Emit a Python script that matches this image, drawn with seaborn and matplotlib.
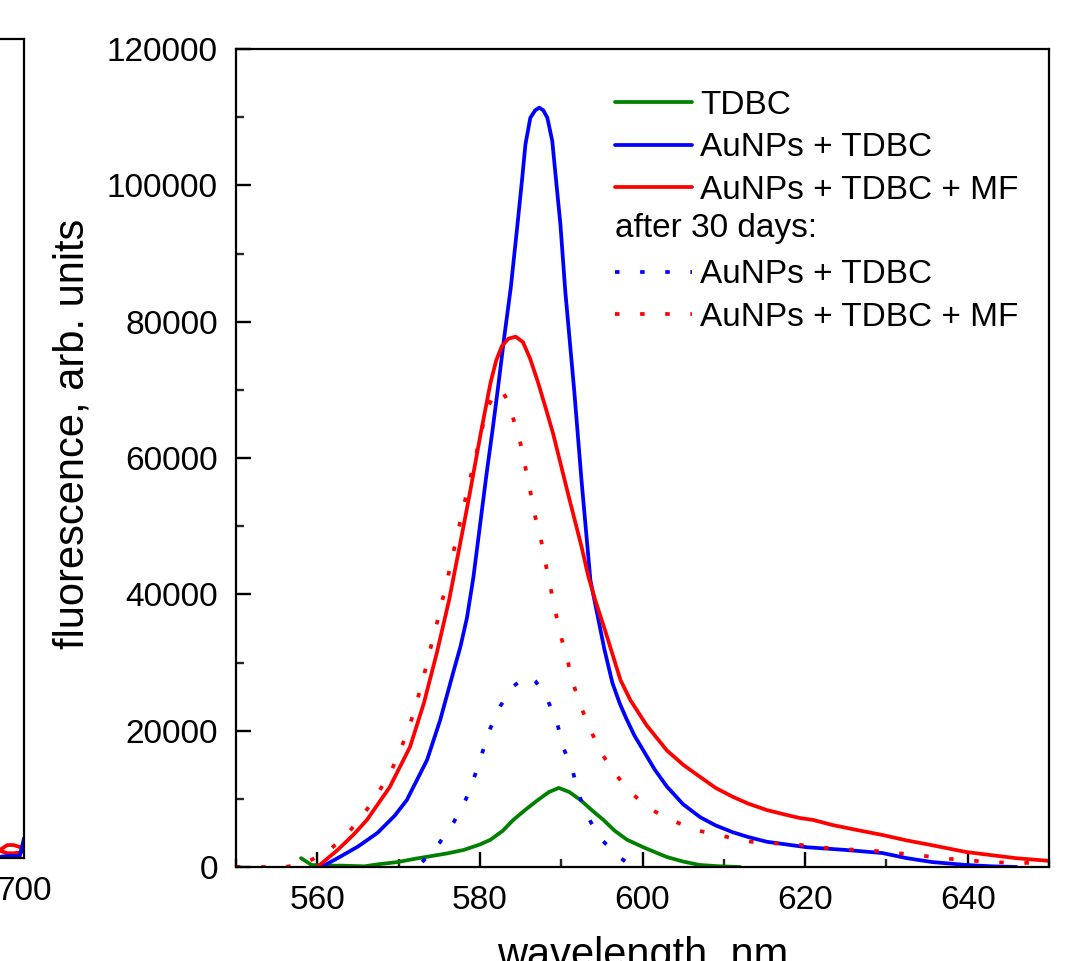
import matplotlib
matplotlib.use("Agg")
import matplotlib.pyplot as plt
from matplotlib.lines import Line2D
from matplotlib.ticker import MultipleLocator
import seaborn as sns

# TDBC (green)
tdbc_wl = [558.0, 559.3, 561.0, 563.0, 565.8, 567.5, 569.9, 572.0, 574.0, 576.0, 578.0, 580.0,
           581.3, 582.8, 584.1, 585.6, 587.1, 588.5, 589.7, 591.0, 592.4, 593.8, 595.2, 596.6,
           598.1, 600.1, 601.5, 603.0, 605.0, 607.0, 609.5, 612.0]
tdbc_val = [1300, 300, 200, 200, 100, 400, 730, 1200, 1600, 2000, 2500, 3300,
            4000, 5300, 6900, 8400, 9800, 11000, 11600, 11000, 9800, 8300, 6900, 5300,
            4000, 2900, 2200, 1460, 800, 300, 100, 0]

# AuNPs + TDBC (blue solid)
au_wl = [560.5, 562.5, 565.0, 567.4, 569.5, 571.0, 573.5, 575.1, 576.8, 577.6, 578.4, 579.2,
         580.0, 580.8, 581.6, 582.3, 583.0, 583.8, 584.6, 585.2, 585.6, 586.2, 586.8, 587.3,
         587.8, 588.3, 588.9, 589.3, 589.9, 590.5, 591.6, 592.5, 593.6, 594.2, 595.3, 596.3,
         597.2, 598.0, 599.0, 600.1, 601.5, 603.0, 605.0, 607.1, 609.0, 611.1, 613.0, 615.3,
         620.2, 625.0, 629.5, 632.5, 635.6, 639.8, 643.0, 646.0]
au_val = [0, 1300, 3000, 5000, 7500, 9800, 15700, 21500, 28900, 32300, 36500, 42500,
          50000, 57500, 64500, 71000, 77800, 85000, 94000, 101000, 106000, 109900, 111000, 111400,
          111000, 109900, 106500, 101600, 94300, 84500, 69900, 56700, 42000, 38500, 32000, 27000,
          24000, 21800, 19300, 17100, 14300, 11800, 9200, 7300, 6100, 5100, 4400, 3700,
          2900, 2500, 2050, 1300, 730, 300, 100, 0]

# AuNPs + TDBC + MF (red solid)
mf_wl = [560.0, 562.5, 564.5, 566.1, 568.9, 571.4, 573.1, 574.7, 576.2, 577.5, 578.6, 580.1,
         581.3, 582.0, 582.7, 583.5, 584.4, 585.3, 586.2, 587.2, 588.1, 589.0, 591.0, 592.5,
         593.3, 594.2, 595.4, 597.3, 598.5, 600.5, 603.0, 605.0, 607.1, 609.0, 611.1, 613.0,
         615.3, 617.5, 619.3, 621.0, 623.4, 626.5, 629.5, 632.5, 635.6, 639.8, 642.5, 645.9,
         650.0]
mf_val = [0, 2500, 4800, 6900, 11700, 17600, 24000, 31400, 39100, 47000, 53800, 63600,
          71000, 74300, 76400, 77500, 77800, 77000, 74500, 70900, 67300, 63600, 54000, 47000,
          42800, 39100, 34700, 27400, 24500, 20800, 17100, 15000, 13200, 11600, 10300, 9300,
          8350, 7700, 7200, 6900, 6150, 5400, 4700, 3900, 3200, 2200, 1800, 1300,
          900]

# after 30 days: AuNPs + TDBC (blue dotted)
au30_wl = [572.9, 575.0, 576.8, 578.3, 579.4, 580.3, 581.3, 582.4, 584.0, 585.3, 586.2, 586.8,
           587.6, 588.4, 589.5, 590.3, 591.4, 592.1, 593.3, 594.8, 597.0, 598.0]
au30_val = [730, 3500, 6600, 10000, 13500, 16800, 20400, 23400, 26400, 27600, 27900, 27300,
            26000, 24300, 21100, 17400, 14200, 10800, 7300, 4200, 1600, 700]

# after 30 days: AuNPs + TDBC + MF (red dotted)
mf30_wl = [550.0, 553.0, 556.0, 557.5, 559.0, 560.5, 561.7, 563.8, 565.8, 567.5, 569.1, 570.3,
           571.4, 572.3, 573.1, 573.8, 574.6, 576.0, 577.3, 578.5, 579.4, 580.1, 580.8, 581.8,
           582.6, 583.4, 584.1, 585.0, 585.6, 586.2, 586.8, 587.5, 588.1, 588.7, 589.3, 590.0,
           590.8, 591.5, 592.5, 593.6, 594.9, 596.5, 598.4, 600.8, 603.5, 606.6, 609.4, 612.5,
           615.4, 618.5, 621.5, 624.6, 627.6, 630.6, 633.6, 636.7, 639.8, 642.8, 645.7, 648.5]
mf30_val = [0, 0, 0, 300, 880, 1800, 2700, 5000, 7900, 10900, 14100, 17400,
            20900, 24500, 28000, 31500, 35200, 42200, 49200, 55500, 59900, 63400, 67000, 69500,
            70000, 68500, 65800, 62100, 58600, 55100, 51400, 48100, 44400, 40900, 37400, 33700,
            30200, 26800, 23300, 20100, 16800, 13900, 11100, 8600, 6900, 5400, 4700, 3800,
            3500, 3400, 2900, 2600, 2500, 2100, 1800, 1300, 1000, 730, 600, 600]

# cropped neighbouring panel on the left (only its right end is visible)
left_wl = [689, 692, 695, 698, 700]
left_red_top = [1300, 1900, 1900, 1600, 1000]
left_red_bot = [1000, 700, 700, 800, 1000]
left_blue = [200, 300, 300, 300, 2900]

labels = ["TDBC", "AuNPs + TDBC", "AuNPs + TDBC + MF", "after 30 days:",
          "AuNPs + TDBC", "AuNPs + TDBC + MF"]

sns.set_style("white")
plt.rcParams["font.family"] = ["Liberation Sans", "DejaVu Sans"]
plt.rcParams["text.color"] = "black"
plt.rcParams["axes.labelcolor"] = "black"

W, H = 1067, 961
fig = plt.figure(figsize=(W / 100, H / 100), dpi=100)
ax = fig.add_axes([236 / W, 1 - 867 / H, (1049 - 236) / W, (867 - 49) / H])
ax0 = fig.add_axes([-600 / W, 1 - 858 / H, 624 / W, (858 - 39) / H])

dot = (0, (1.2, 5.5))
lw = 2.7

sns.lineplot(x=tdbc_wl, y=tdbc_val, ax=ax, color="#008000", linewidth=lw)
sns.lineplot(x=au_wl, y=au_val, ax=ax, color="#0000ff", linewidth=lw)
sns.lineplot(x=mf_wl, y=mf_val, ax=ax, color="#ff0000", linewidth=lw)
sns.lineplot(x=au30_wl, y=au30_val, ax=ax, color="#0000ff", linewidth=lw, linestyle=dot)
sns.lineplot(x=mf30_wl, y=mf30_val, ax=ax, color="#ff0000", linewidth=lw, linestyle=dot)

ax.set_xlim(550, 650)
ax.set_ylim(0, 120000)
ax.xaxis.set_major_locator(MultipleLocator(20))
ax.xaxis.set_minor_locator(MultipleLocator(10))
ax.yaxis.set_major_locator(MultipleLocator(20000))
ax.yaxis.set_minor_locator(MultipleLocator(10000))
ax.ticklabel_format(axis="y", style="plain", useOffset=False)

ax.tick_params(which="major", direction="in", length=11, width=1.7, labelsize=24,
               pad=13, colors="black", bottom=True, left=True, top=False, right=False)
ax.tick_params(which="minor", direction="in", length=5.5, width=1.7,
               bottom=True, left=True, top=False, right=False)
for s in ax.spines.values():
    s.set_color("black")
    s.set_linewidth(1.6)

ax.set_xlabel("wavelength, nm", fontsize=30, labelpad=14)
ax.set_ylabel("fluorescence, arb. units", fontsize=30)
ax.yaxis.set_label_coords(-0.176, 0.53)

lines = ax.get_lines()
handles = [lines[0], lines[1], lines[2], Line2D([], [], alpha=0), lines[3], lines[4]]
leg = ax.legend(handles, labels, loc="upper left", bbox_to_anchor=(0.466, 0.95),
                frameon=False, fontsize=24, handlelength=2.3, handletextpad=0.25,
                labelspacing=0.34, borderpad=0, borderaxespad=0)
leg.get_texts()[3].set_alpha(0)
ax.text(0.466, (867 - 229) / 818, labels[3], transform=ax.transAxes,
        fontsize=24, va="center", ha="left")

# left panel
sns.lineplot(x=left_wl, y=left_red_top, ax=ax0, color="#ff0000", linewidth=lw)
sns.lineplot(x=left_wl, y=left_red_bot, ax=ax0, color="#ff0000", linewidth=lw)
sns.lineplot(x=left_wl, y=left_blue, ax=ax0, color="#0000ff", linewidth=lw)
ax0.set_xlim(400, 700)
ax0.set_ylim(0, 120000)
ax0.set_xticks([400, 500, 600, 700])
ax0.set_yticks([])
ax0.tick_params(axis="x", direction="in", length=0, labelsize=24, pad=13, colors="black")
for s in ax0.spines.values():
    s.set_color("black")
    s.set_linewidth(1.6)

fig.savefig("out.png", dpi=100)
